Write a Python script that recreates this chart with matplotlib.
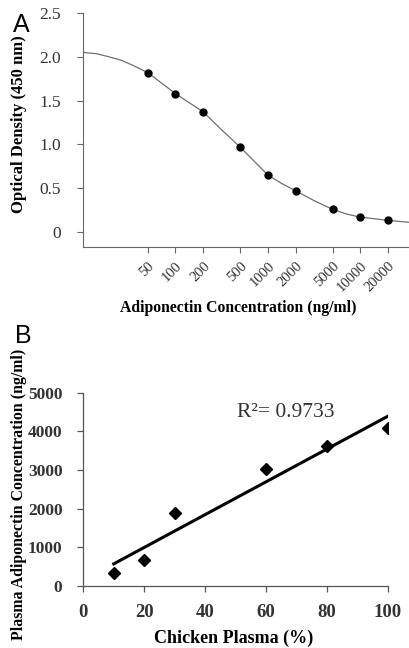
#!/usr/bin/env python3
"""Adiponectin ELISA standard curve (A) and plasma dilution linearity (B)."""

import matplotlib
matplotlib.use('Agg')
import matplotlib.pyplot as plt
import numpy as np
from matplotlib.ticker import NullLocator, FixedLocator

# Panel A: standard points and the fitted curve
std_conc = [50, 100, 200, 500, 1000, 2000, 5000, 10000, 20000]
std_od = [1.82, 1.58, 1.37, 0.97, 0.65, 0.47, 0.26, 0.17, 0.135]
fit_conc = [10, 14, 19, 26, 35, 50, 100, 200, 313, 500, 1000, 1430, 2000,
            3200, 5000, 7100, 10000, 20000, 34400]
fit_od = [2.05, 2.035, 2.0, 1.96, 1.90, 1.82, 1.58, 1.37, 1.17, 0.97, 0.65,
          0.55, 0.47, 0.355, 0.26, 0.205, 0.17, 0.133, 0.11]
a_xtick_labels = ['50', '100', '200', '500', '1000', '2000', '5000',
                  '10000', '20000']
a_yticks = [0, 0.5, 1.0, 1.5, 2.0, 2.5]
a_ytick_labels = ['0', '0.5', '1.0', '1.5', '2.0', '2.5']

# Panel B: plasma dilution series
plasma_pct = [10, 20, 30, 60, 80, 100]
plasma_adipo = [330, 672, 1896, 3018, 3620, 4078]
r2_text = 'R\u00b2= 0.9733'

SERIF = 'Liberation Serif'
SANS = 'Liberation Sans'

fig = plt.figure(figsize=(4.10, 6.48), dpi=100)

# ---------------- Panel A ----------------
axA = fig.add_axes([0.2024, 0.6188, 1.0 - 0.2024, 0.980 - 0.6188])
axA.plot(fit_conc, fit_od, color='#707070', linewidth=0.9, zorder=2)
axA.plot(std_conc, std_od, linestyle='none', marker='o', markersize=5,
         color='black', zorder=3)
axA.set_xscale('log')
axA.set_xlim(10, 34400)
axA.set_ylim(-0.171, 2.5)
axA.xaxis.set_major_locator(FixedLocator(std_conc))
axA.xaxis.set_minor_locator(NullLocator())
axA.set_xticklabels(a_xtick_labels, rotation=45, ha='right',
                    rotation_mode='anchor', family=SERIF, fontsize=10.5,
                    color='#333333')
axA.set_yticks(a_yticks)
axA.set_yticklabels(a_ytick_labels, family=SERIF, fontsize=12.5,
                    color='#333333')
for side in ('top', 'right'):
    axA.spines[side].set_visible(False)
for side in ('left', 'bottom'):
    axA.spines[side].set_color('#666666')
    axA.spines[side].set_linewidth(0.8)
axA.tick_params(axis='both', direction='out', length=4, width=0.8,
                color='#666666')
axA.tick_params(axis='y', pad=12)
axA.tick_params(axis='x', pad=5)
axA.set_xlabel('Adiponectin Concentration (ng/ml)', family=SERIF,
               fontsize=11.3, fontweight='bold')
axA.xaxis.set_label_coords((238 - 83) / (410 - 83), (247 - 300) / 234,
                           transform=axA.transAxes)
axA.set_ylabel('Optical Density (450 nm)', family=SERIF, fontsize=12,
               fontweight='bold')
axA.yaxis.set_label_coords((27 - 83) / (410 - 83), (247 - 124) / 234,
                           transform=axA.transAxes)
fig.text(21 / 410, 1 - 25 / 648, 'A', family=SANS, fontsize=18,
         ha='center', va='center')

# ---------------- Panel B ----------------
axB = fig.add_axes([0.2032, 0.0957, 0.9456 - 0.2032, 0.394 - 0.0957])
slope, intercept = np.polyfit(plasma_pct, plasma_adipo, 1)
trend_x = np.array([min(plasma_pct), max(plasma_pct)])
axB.plot(trend_x, slope * trend_x + intercept, color='black',
         linewidth=2.2, zorder=2)
axB.plot(plasma_pct, plasma_adipo, linestyle='none', marker='D',
         markersize=6, color='black', zorder=3)
axB.set_xlim(0, 100)
axB.set_ylim(0, 5000)
axB.set_xticks([0, 20, 40, 60, 80, 100])
axB.set_yticks([0, 1000, 2000, 3000, 4000, 5000])
for lab in axB.get_xticklabels():
    lab.set_family(SERIF)
    lab.set_fontsize(13.5)
    lab.set_fontweight('bold')
    lab.set_color('#333333')
for lab in axB.get_yticklabels():
    lab.set_family(SERIF)
    lab.set_fontsize(12.5)
    lab.set_fontweight('bold')
    lab.set_color('#333333')
for side in ('top', 'right'):
    axB.spines[side].set_visible(False)
for side in ('left', 'bottom'):
    axB.spines[side].set_color('#555555')
    axB.spines[side].set_linewidth(0.9)
axB.tick_params(axis='both', direction='out', length=4, width=0.9,
                color='#555555')
axB.tick_params(axis='y', pad=11)
axB.tick_params(axis='x', pad=9)
axB.text(50.5, 4500, r2_text, family=SERIF, fontsize=15.5, color='#333333',
         ha='left', va='center')
axB.set_xlabel('Chicken Plasma (%)', family=SERIF, fontsize=13,
               fontweight='bold')
axB.xaxis.set_label_coords((234 - 83.3) / (387.7 - 83.3),
                           (586 - 630) / (586 - 392.7),
                           transform=axB.transAxes)
axB.set_ylabel('Plasma Adiponectin Concentration (ng/ml)', family=SERIF,
               fontsize=11.4, fontweight='bold')
axB.yaxis.set_label_coords((27 - 83.3) / (387.7 - 83.3),
                           (586 - 494) / (586 - 392.7),
                           transform=axB.transAxes)
fig.text(23 / 410, 1 - 336 / 648, 'B', family=SANS, fontsize=18,
         ha='center', va='center')

fig.savefig('out.png', dpi=100, facecolor='white')
